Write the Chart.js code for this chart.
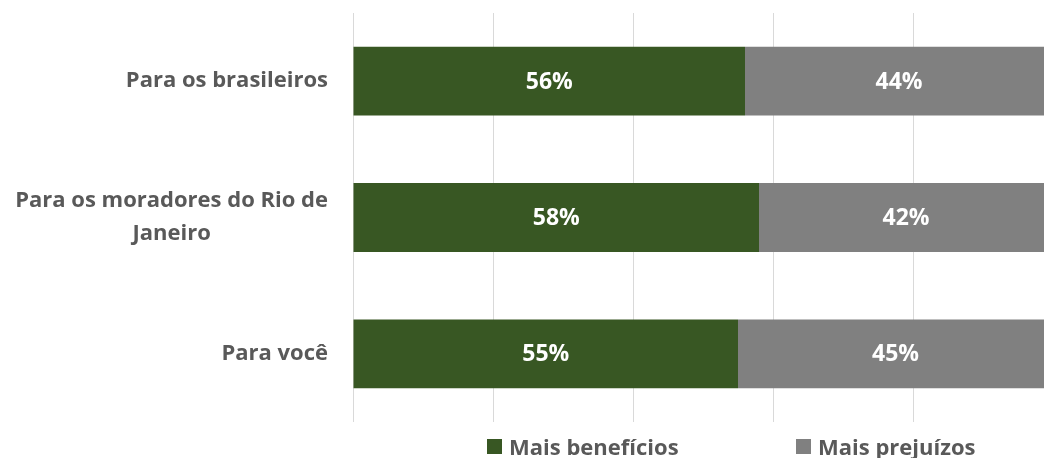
<!DOCTYPE html>
<html>
<head>
<meta charset="utf-8">
<script src="https://cdn.jsdelivr.net/npm/chart.js@4.4.1/dist/chart.umd.min.js"></script>
<style>
  html, body { margin: 0; padding: 0; background: #fff; overflow: hidden; }
  #wrap { position: relative; width: 1044px; height: 458px; overflow: hidden; }
  #c { position: absolute; left: 0; top: 0; }
  .lg { position: absolute; top: 431px; height: 30px; display: flex; align-items: center;
        font: bold 22px "Open Sans", sans-serif; color: #595959; white-space: nowrap; }
  .lg i { display: inline-block; width: 15px; height: 15px; margin-right: 7px; }
</style>
</head>
<body>
<div id="wrap">
  <canvas id="c" width="1060" height="458"></canvas>
  <div class="lg" style="left:487px"><i style="background:#385723"></i><span id="lg1"></span></div>
  <div class="lg" style="left:796px"><i style="background:#808080"></i><span id="lg2"></span></div>
</div>
<script>
// ── DATA ──────────────────────────────────────────────────────────────────────
const CATEGORIES = [
  ['Para os brasileiros'],
  ['Para os moradores do Rio de', 'Janeiro'],
  ['Para você']
];
const BENEFICIOS = [56, 58, 55];
const PREJUIZOS  = [44, 42, 45];
const SERIES     = ['Mais benefícios', 'Mais prejuízos'];

const GREEN = '#385723';
const GRAY  = '#808080';
const FONT  = '"Open Sans", sans-serif';

document.getElementById('lg1').textContent = SERIES[0];
document.getElementById('lg2').textContent = SERIES[1];

// ── PLUGINS: category labels + value labels ───────────────────────────────────
const catLabels = {
  id: 'catLabels',
  afterDraw(chart) {
    const ctx = chart.ctx, y = chart.scales.y;
    const right = 328, lh = 33;
    ctx.save();
    ctx.font = 'bold 22px ' + FONT;
    ctx.fillStyle = '#595959';
    ctx.textBaseline = 'middle';
    ctx.textAlign = 'center';
    CATEGORIES.forEach((lines, i) => {
      const cy = y.getPixelForValue(i);
      const w = Math.max(...lines.map(l => ctx.measureText(l).width));
      const cx = right - w / 2;
      const top = cy - (lines.length - 1) * lh / 2;
      lines.forEach((l, j) => ctx.fillText(l, cx, top + j * lh));
    });
    ctx.restore();
  }
};

const valueLabels = {
  id: 'valueLabels',
  afterDatasetsDraw(chart) {
    const ctx = chart.ctx;
    ctx.save();
    ctx.font = 'bold 23px ' + FONT;
    ctx.fillStyle = '#ffffff';
    ctx.textAlign = 'center';
    ctx.textBaseline = 'middle';
    chart.data.datasets.forEach((ds, di) => {
      chart.getDatasetMeta(di).data.forEach((bar, i) => {
        const p = bar.getProps(['x', 'y', 'base'], true);
        ctx.fillText(ds.data[i] + '%', (p.x + p.base) / 2, p.y + 1);
      });
    });
    ctx.restore();
  }
};

// ── CHART ─────────────────────────────────────────────────────────────────────
new Chart(document.getElementById('c'), {
  type: 'bar',
  data: {
    labels: CATEGORIES,
    datasets: [
      { label: SERIES[0], data: BENEFICIOS, backgroundColor: GREEN },
      { label: SERIES[1], data: PREJUIZOS,  backgroundColor: GRAY }
    ]
  },
  options: {
    indexAxis: 'y',
    responsive: false,
    animation: false,
    devicePixelRatio: 1,
    layout: { padding: { top: 13, right: 7, bottom: 36, left: 0 } },
    datasets: { bar: { categoryPercentage: 0.505, barPercentage: 1 } },
    scales: {
      x: {
        stacked: true, min: 0, max: 100,
        ticks: { display: false, stepSize: 20 },
        grid: { color: '#d9d9d9', lineWidth: 1, drawTicks: false },
        border: { display: false }
      },
      y: {
        stacked: true,
        ticks: { display: false },
        grid: { display: false, drawTicks: false },
        border: { display: false },
        afterFit(scale) { scale.width = 353; }
      }
    },
    plugins: { legend: { display: false }, tooltip: { enabled: false } }
  },
  plugins: [catLabels, valueLabels]
});
</script>
</body>
</html>
